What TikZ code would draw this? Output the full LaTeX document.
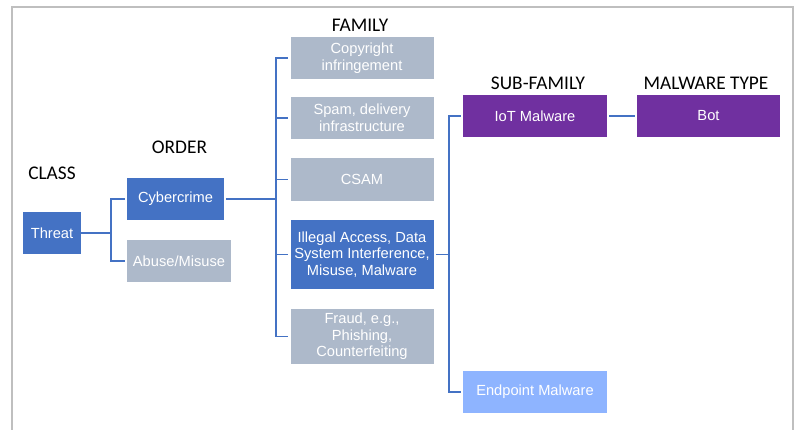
\documentclass[tikz,border=0pt]{standalone}
\usepackage{fontspec}
\setmainfont{Liberation Sans}
\newfontfamily\levelfont{Carlito}
\definecolor{taxgray}{HTML}{ADB9CA}
\definecolor{taxblue}{HTML}{4472C4}
\definecolor{taxpurple}{HTML}{7030A0}
\definecolor{taxlight}{HTML}{8EB4FF}
\definecolor{framegray}{HTML}{BFBFBF}
\begin{document}
\begin{tikzpicture}[x=0.75pt,y=-0.75pt,
        box/.style={rectangle, text=white, inner sep=1pt, align=center,
                font=\fontsize{11}{12.5}\selectfont, minimum height=31.5pt},
        level/.style={font=\levelfont\fontsize{14.5}{16}\selectfont},
        link/.style={draw=taxblue, line width=1pt}]
        \useasboundingbox (0,0) rectangle (797,429);
        \draw[framegray, line width=1.2pt] (12,440) -- (12,7) -- (793,7) -- (793,440);
        \node[level] (classlbl) at (52,173) {CLASS};
        \node[level] (orderlbl) at (179.5,147) {ORDER};
        \node[level] (familylbl) at (360,25) {FAMILY};
        \node[level] (sublbl) at (538,83) {SUB-FAMILY};
        \node[level] (typelbl) at (706,83) {MALWARE TYPE};
        \node[box, fill=taxblue, minimum width=43.5pt] (threat) at (52,233) {Threat};
        \node[box, fill=taxblue, minimum width=72.75pt] (cyber) at (175.5,199) {Cybercrime};
        \node[box, fill=taxgray, minimum width=78pt] (abuse) at (179,261) {Abuse/Misuse};
        \node[box, fill=taxgray, minimum width=107.25pt] (copy) at (362,58) {Copyright\\infringement};
        \node[box, fill=taxgray, minimum width=107.25pt] (spam) at (362,118) {Spam, delivery\\infrastructure};
        \node[box, fill=taxgray, minimum width=107.25pt, minimum height=32.25pt] (csam) at (362,179.5) {CSAM};
        \node[box, fill=taxblue, minimum width=107.25pt, minimum height=51.75pt] (illegal) at (362,254.5) {Illegal Access, Data\\System Interference,\\Misuse, Malware};
        \node[box, fill=taxgray, minimum width=107.25pt, minimum height=41.25pt] (fraud) at (362,336.5) {Fraud, e.g.,\\Phishing,\\Counterfeiting};
        \node[box, fill=taxpurple, minimum width=108pt] (iot) at (535,116) {IoT Malware};
        \node[box, fill=taxpurple, minimum width=107.25pt] (bot) at (708.5,116) {Bot};
        \node[box, fill=taxlight, minimum width=108pt] (endpoint) at (535,392) {Endpoint Malware};
        \coordinate (busA) at (111,233);
        \coordinate (busB) at (276,199);
        \coordinate (busC) at (449,254.5);
        \draw[link] (threat.east) -- (busA);
        \foreach \n in {cyber,abuse} {
                \draw[link] (busA) |- ([xshift=-1.5pt]\n.west);
        }
        \draw[link] ([xshift=1.5pt]cyber.east) -- (busB);
        \foreach \n in {copy,spam,csam,illegal,fraud} {
                \draw[link] (busB) |- ([xshift=-1.5pt]\n.west);
        }
        \draw[link] ([xshift=1.5pt]illegal.east) -- (busC);
        \foreach \n in {iot,endpoint} {
                \draw[link] (busC) |- ([xshift=-1.5pt]\n.west);
        }
        \draw[link] ([xshift=1.5pt]iot.east) -- ([xshift=-1.5pt]bot.west);
\end{tikzpicture}
\end{document}
